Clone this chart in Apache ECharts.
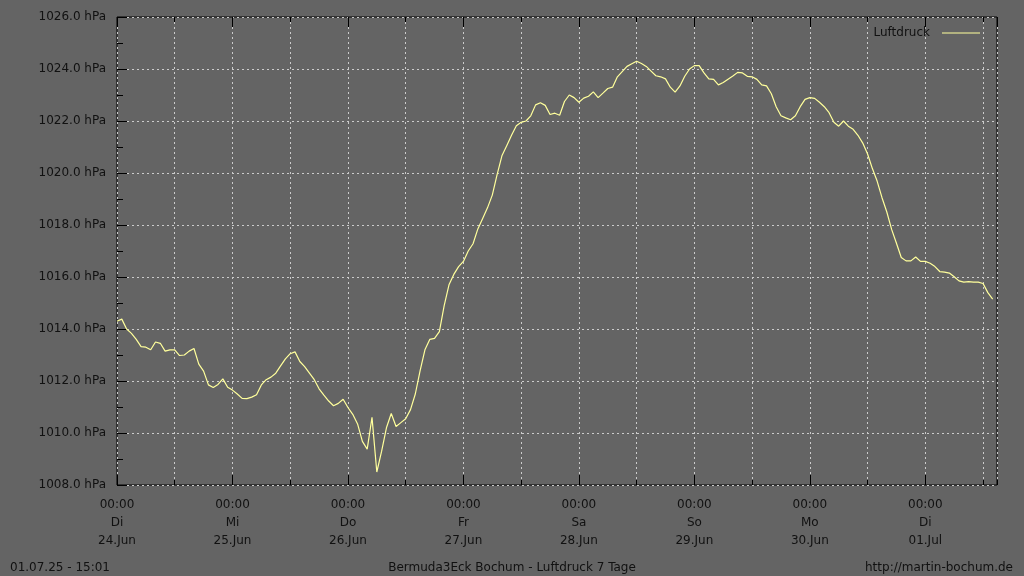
<!DOCTYPE html>
<html>
<head>
<meta charset="utf-8">
<script src="https://cdn.jsdelivr.net/npm/echarts@6/dist/echarts.min.js"></script>
<style>
  html, body { margin: 0; padding: 0; background: #646464; }
  #chart { width: 1024px; height: 576px; }
</style>
</head>
<body>
<div id="chart"></div>
<script>
// hourly air pressure (hPa), starting 24.Jun 00:00
var pressure = [
  1014.3, 1014.38, 1014.0, 1013.83, 1013.6, 1013.32, 1013.3, 1013.2, 1013.5, 1013.45,
  1013.15, 1013.2, 1013.2, 1012.98, 1013.0, 1013.15, 1013.25, 1012.65, 1012.38, 1011.85,
  1011.75, 1011.87, 1012.08, 1011.76, 1011.65, 1011.5, 1011.33, 1011.32, 1011.38, 1011.47,
  1011.85, 1012.05, 1012.15, 1012.3, 1012.58, 1012.85, 1013.05, 1013.12, 1012.75, 1012.55,
  1012.3, 1012.05, 1011.7, 1011.46, 1011.23, 1011.05, 1011.14, 1011.3, 1010.98, 1010.72,
  1010.35, 1009.68, 1009.38, 1010.6, 1008.5, 1009.3, 1010.2, 1010.75, 1010.25, 1010.4,
  1010.55, 1010.9, 1011.5, 1012.4, 1013.2, 1013.6, 1013.64, 1013.9, 1014.9, 1015.7,
  1016.1, 1016.4, 1016.6, 1017.0, 1017.28, 1017.85, 1018.25, 1018.66, 1019.15, 1019.94,
  1020.66, 1021.05, 1021.45, 1021.82, 1021.95, 1022.0, 1022.2, 1022.62, 1022.7, 1022.6,
  1022.25, 1022.3, 1022.22, 1022.75, 1023.0, 1022.9, 1022.72, 1022.88, 1022.95, 1023.12,
  1022.9, 1023.07, 1023.25, 1023.3, 1023.7, 1023.9, 1024.1, 1024.2, 1024.3, 1024.21,
  1024.1, 1023.92, 1023.74, 1023.7, 1023.62, 1023.3, 1023.11, 1023.35, 1023.72, 1024.0,
  1024.13, 1024.13, 1023.85, 1023.62, 1023.6, 1023.39, 1023.48, 1023.61, 1023.73, 1023.87,
  1023.85, 1023.72, 1023.7, 1023.6, 1023.39, 1023.35, 1023.05, 1022.55, 1022.2, 1022.12,
  1022.05, 1022.2, 1022.55, 1022.83, 1022.9, 1022.87, 1022.72, 1022.55, 1022.32, 1021.95,
  1021.8, 1022.0, 1021.8, 1021.68, 1021.45, 1021.15, 1020.73, 1020.17, 1019.68, 1019.05,
  1018.5, 1017.83, 1017.3, 1016.75, 1016.62, 1016.62, 1016.77, 1016.6, 1016.6, 1016.53,
  1016.4, 1016.21, 1016.19, 1016.15, 1016.01, 1015.85, 1015.8, 1015.82, 1015.8, 1015.8,
  1015.75, 1015.4, 1015.15
];
var weekdays = ['Di', 'Mi', 'Do', 'Fr', 'Sa', 'So', 'Mo', 'Di'];
var dates = ['24.Jun', '25.Jun', '26.Jun', '27.Jun', '28.Jun', '29.Jun', '30.Jun', '01.Jul'];

var font = 'DejaVu Sans';
var seriesData = pressure.map(function (v, i) { return [i, v]; });
var xMax = 182.9;

function dayLabel(v) {
  if (v % 24 !== 0) return '';
  var d = v / 24;
  return '00:00\n' + weekdays[d] + '\n' + dates[d];
}

function xAxisDef(pos, step, len, extra) {
  var a = {
    type: 'value', position: pos, min: 0, max: xMax, interval: step,
    axisLine: { show: false },
    axisTick: { show: true, inside: true, length: len, lineStyle: { color: '#000' } },
    axisLabel: { show: false },
    splitLine: { show: false }
  };
  return Object.assign(a, extra || {});
}

var chart = echarts.init(document.getElementById('chart'));
chart.setOption({
  backgroundColor: '#646464',
  animation: false,
  textStyle: { fontFamily: font },
  grid: {
    left: 117, right: 27, top: 17, bottom: 91,
    show: true, borderColor: '#000', borderWidth: 1, backgroundColor: 'transparent'
  },
  legend: {
    right: 39, top: 22,
    icon: 'rect', itemWidth: 38, itemHeight: 1,
    align: 'right',
    textStyle: { color: '#111', fontFamily: font, fontSize: 12, padding: [0, 7, 0, 0] },
    data: ['Luftdruck']
  },
  xAxis: [
    xAxisDef('bottom', 12, 5, {
      splitLine: { show: true, lineStyle: { color: '#cccccc', type: [2, 3], width: 1 } }
    }),
    xAxisDef('bottom', 24, 10, {
      axisLabel: {
        show: true, color: '#111', fontFamily: font, fontSize: 12,
        lineHeight: 18, margin: 11, showMaxLabel: false,
        formatter: dayLabel
      }
    }),
    xAxisDef('top', 12, 5),
    xAxisDef('top', 24, 10)
  ],
  yAxis: {
    type: 'value', min: 1008, max: 1026, interval: 2,
    axisLine: { show: false },
    axisTick: { show: true, inside: true, length: 10, lineStyle: { color: '#000' } },
    minorTick: { show: true, splitNumber: 2, length: 6, lineStyle: { color: '#000' } },
    axisLabel: {
      color: '#111', fontFamily: font, fontSize: 12, margin: 11,
      formatter: function (v) { return v.toFixed(1) + ' hPa'; }
    },
    splitLine: { show: true, lineStyle: { color: '#cccccc', type: [2, 3], width: 1 } }
  },
  series: [{
    name: 'Luftdruck',
    type: 'line',
    xAxisIndex: 0,
    data: seriesData,
    showSymbol: false,
    symbol: 'none',
    color: '#ffff9c',
    lineStyle: { color: '#ffff9c', width: 1.2 }
  }],
  graphic: [
    { type: 'text', left: 10, top: 562, style: { text: '01.07.25 - 15:01', fill: '#111', font: '12px "DejaVu Sans"' } },
    { type: 'text', left: 'center', top: 562, style: { text: 'Bermuda3Eck Bochum - Luftdruck 7 Tage', fill: '#111', font: '12px "DejaVu Sans"' } },
    { type: 'text', right: 11, top: 562, style: { text: 'http://martin-bochum.de', fill: '#111', font: '12px "DejaVu Sans"' } }
  ]
});
</script>
</body>
</html>
